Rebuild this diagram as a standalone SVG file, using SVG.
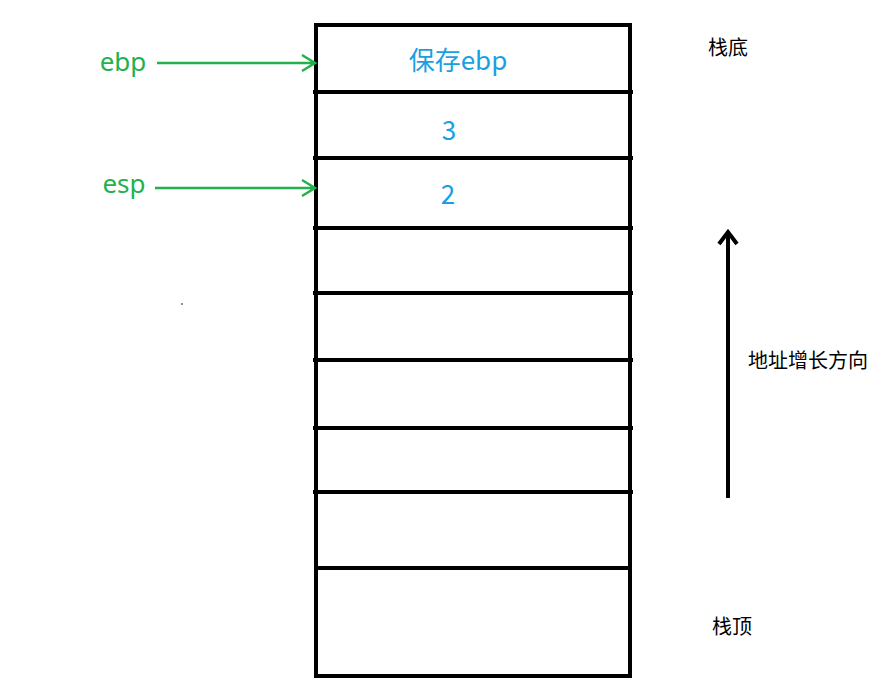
<svg xmlns="http://www.w3.org/2000/svg" width="890" height="687" viewBox="0 0 890 687">
<style>
.ln{stroke:#000;stroke-width:4;fill:none}
.g{stroke:#22b14c;stroke-width:2.5;fill:none}
.gt{fill:#22b14c;font-family:"Noto Sans","Liberation Sans",sans-serif;font-size:26px;text-anchor:middle}
.bt{fill:#1a9fe0;font-family:"Noto Sans CJK SC","Noto Sans",sans-serif;font-size:26px;text-anchor:middle}
.kt{fill:#000;font-family:"Noto Sans CJK SC",sans-serif;font-size:20px;text-anchor:middle}
</style>
<rect width="890" height="687" fill="#fff"/>
<g id="stack">
<rect x="316" y="25" width="314" height="651" class="ln"/>
<path class="ln" d="M313 92H633M313 158H633M313 228H633M313 293H633M313 360H633M313 428H633M313 492H633M316 568H630"/>
<text x="458" y="70" class="bt">保存ebp</text>
<text x="449" y="140" class="bt">3</text>
<text x="448" y="204" class="bt">2</text>
</g>
<g id="ebp"><text x="123" y="71" class="gt">ebp</text></g>
<g id="esp"><text x="124" y="193" class="gt">esp</text></g>
<g id="labels">
<text x="728" y="55" class="kt">栈底</text>
<text x="732" y="634" class="kt">栈顶</text>
<text x="808" y="368" class="kt">地址增长方向</text>
<circle cx="182" cy="304" r="0.8" fill="#000"/>
</g>
<g id="connectors">
<path class="g" d="M157 63H314M302 55L315 63L302 71"/>
<path class="g" d="M155 188H314M302 180L315 188L302 196"/>
<path d="M728 498V233M719 244L728 232L737 244" stroke="#000" stroke-width="4" fill="none"/>
</g>
</svg>
